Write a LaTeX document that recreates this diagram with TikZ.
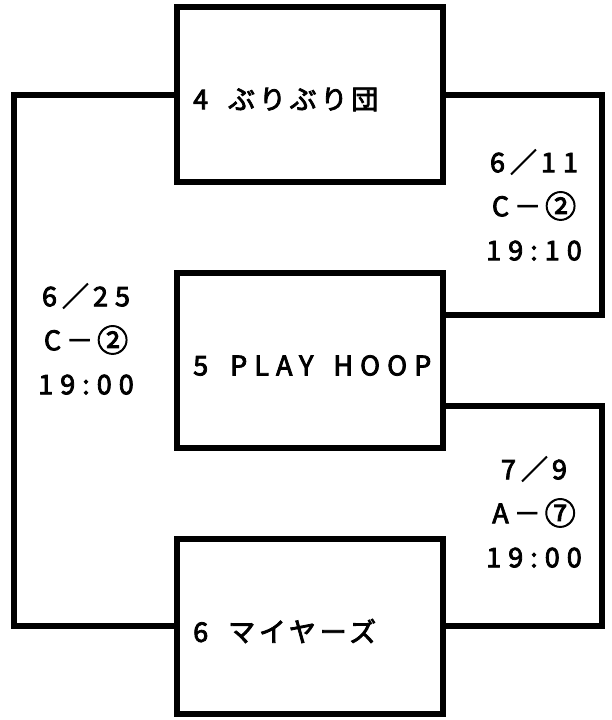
\documentclass[tikz,border=0pt]{standalone}
\usepackage{fontspec}
\newfontfamily\jpfont[LetterSpace=14,FakeBold=3]{Noto Sans CJK JP}
\newfontfamily\latfont[LetterSpace=26,FakeBold=3]{Noto Sans CJK JP}
\newcommand\lat[1]{{\latfont #1}}
\newcommand\fw[1]{\kern5pt#1\kern4pt}
\newcommand\circnum[1]{{\fontsize{31}{31}\selectfont\raisebox{-1.5pt}{#1}}}
\usetikzlibrary{calc}

\begin{document}
\begin{tikzpicture}[x=1pt,y=-1pt,
    team/.style={draw, line width=6pt, minimum width=266pt, minimum height=175pt, inner sep=0pt},
    teamname/.style={anchor=west, inner sep=0pt, font=\jpfont\fontsize{27}{30}\selectfont},
    game/.style={align=center, inner sep=0pt, font=\jpfont\fontsize{27}{44}\selectfont},
    link/.style={line width=6pt}]
  \useasboundingbox (0,0) rectangle (611,720);

  \node[team] (b1) at (310,94.5) {};
  \node[team] (b2) at (310,360.5) {};
  \node[team] (b3) at (310,626) {};

  \node[teamname] (n1) at ($(b1.west)+(19,5)$) {\lat{4}\hspace{20pt}ぶりぶり団};
  \node[teamname] (n2) at ($(b2.west)+(19,5)$) {\lat{5}\hspace{22pt}\lat{PLAY}\hspace{20pt}\lat{HOOP}};
  \node[teamname] (n3) at ($(b3.west)+(19,5)$) {\lat{6}\hspace{20pt}マイヤーズ};

  \coordinate (b2up) at ($(b2.north east)!0.25!(b2.south east)$);
  \coordinate (b2dn) at ($(b2.north east)!0.75!(b2.south east)$);

  \draw[link] (b1.west) -- ++(-160,0) |- (b3.west);
  \draw[link] (b1.east) -- ++(156,0) |- (b2up);
  \draw[link] (b2dn) -- ++(156,0) |- (b3.east);

  \node[game] (g1) at (534,205) {\lat{6}\fw{／}\lat{11}\\\lat{C}\fw{－}\circnum{②}\\\lat{19:10}};
  \node[game] (g2) at (86,339) {\lat{6}\fw{／}\lat{25}\\\lat{C}\fw{－}\circnum{②}\\\lat{19:00}};
  \node[game] (g3) at (534,512) {\lat{7}\fw{／}\lat{9}\\\lat{A}\fw{－}\circnum{⑦}\\\lat{19:00}};
\end{tikzpicture}
\end{document}
